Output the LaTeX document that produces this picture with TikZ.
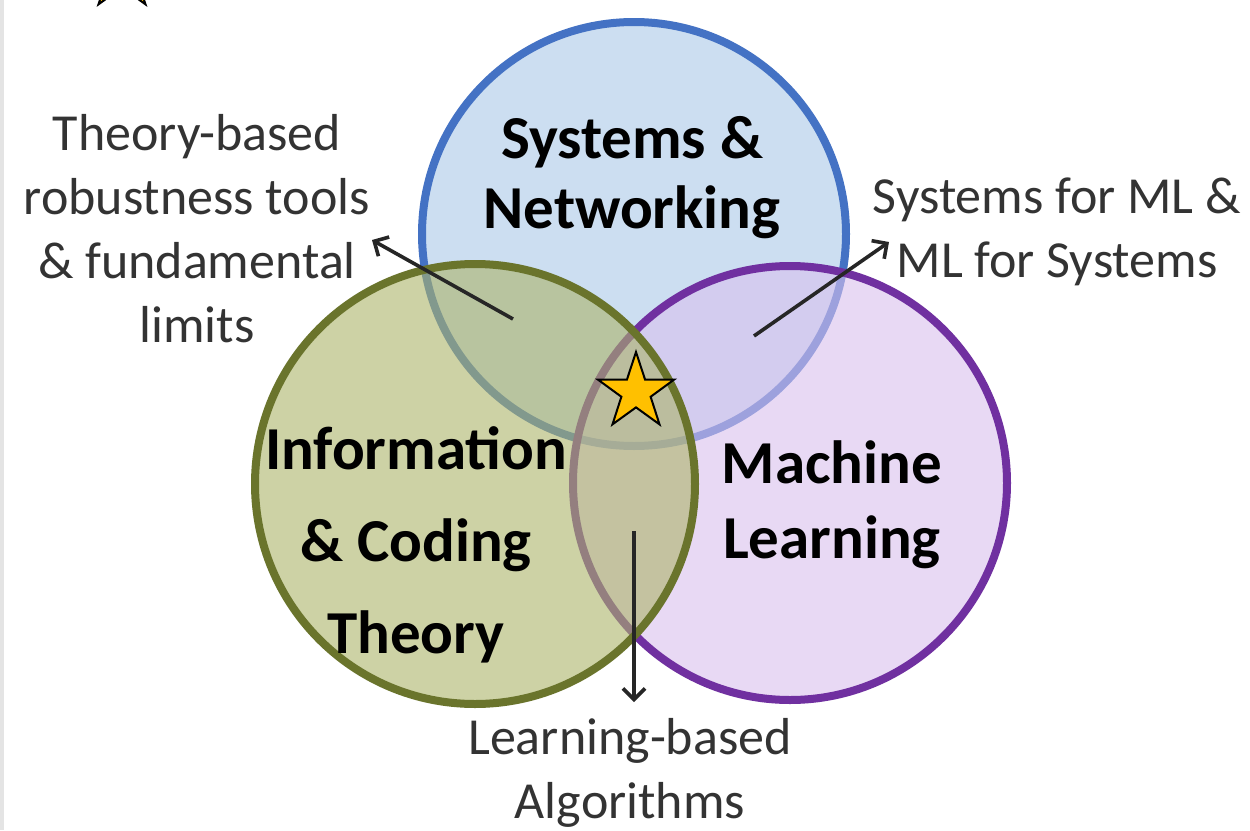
\documentclass[tikz,border=0pt]{standalone}
\usepackage{fontspec}
\setmainfont{Carlito}
\usetikzlibrary{shapes.geometric,arrows.meta}
\definecolor{bluefill}{RGB}{204,222,241}
\definecolor{blueline}{RGB}{68,114,196}
\definecolor{purpfill}{RGB}{217,193,238}
\definecolor{purpline}{RGB}{112,48,160}
\definecolor{greenfill}{RGB}{172,180,105}
\definecolor{greenline}{RGB}{106,116,44}
\definecolor{labelgray}{RGB}{51,51,51}
\definecolor{stargold}{RGB}{255,192,0}
\definecolor{edgegray}{RGB}{228,228,228}
\begin{document}
\begin{tikzpicture}[x=1pt,y=-1pt,
  ring/.style={line width=8pt},
  boldlabel/.style={font=\bfseries\fontsize{61}{75}\selectfont, align=center, text=black, inner sep=0pt},
  sidelabel/.style={font=\fontsize{52}{64}\selectfont, align=center, text=labelgray, inner sep=0pt},
  pointer/.style={line width=3.6pt, draw=black!85, -{Straight Barb[length=11pt,width=22pt]}},
  goldstar/.style={star, star points=5, star point ratio=2.6, minimum size=80pt, inner sep=0pt, fill=stargold, draw=black, line width=2pt}
]
\useasboundingbox (0,0) rectangle (1250,830);
\clip (0,0) rectangle (1250,830);
\fill[white] (0,0) rectangle (1250,830);
\fill[edgegray] (0,0) rectangle (4,830);
% circles
\path[ring, fill=bluefill, draw=blueline] (634,234) circle[radius=212pt];
\path[ring, fill=purpfill, fill opacity=0.6, draw=purpline] (790,483) circle[radius=217pt];
\path[ring, fill=greenfill, fill opacity=0.6, draw=greenline] (475,484) circle[radius=220pt];
% stars
\node[goldstar] (star) at (636,392) {};
\node[goldstar] (cornerstar) at (122,-28) {};
% main labels
\node[boldlabel, font=\bfseries\fontsize{61}{70}\selectfont] (sys) at (632,178) {Systems \&\\Networking};
\node[boldlabel, font=\bfseries\fontsize{61}{92}\selectfont] (info) at (416,545) {Information\\\& Coding\\Theory};
\node[boldlabel] (ml) at (832,505) {Machine\\Learning};
% side labels
\node[sidelabel] (theory) at (197,229) {Theory-based\\robustness tools\\\& fundamental\\limits};
\node[sidelabel] (sysml) at (1057,232) {Systems for ML \&\\ML for Systems};
\node[sidelabel] (learn) at (630,773) {Learning-based\\Algorithms};
% arrows
\coordinate (p1s) at (513,319);
\coordinate (p1e) at (372,240);
\coordinate (p2s) at (754,336);
\coordinate (p2e) at (889,242);
\coordinate (p3s) at (634,531);
\coordinate (p3e) at (634,702);
\draw[pointer] (p1s) -- (p1e);
\draw[pointer] (p2s) -- (p2e);
\draw[pointer] (p3s) -- (p3e);
\end{tikzpicture}
\end{document}
